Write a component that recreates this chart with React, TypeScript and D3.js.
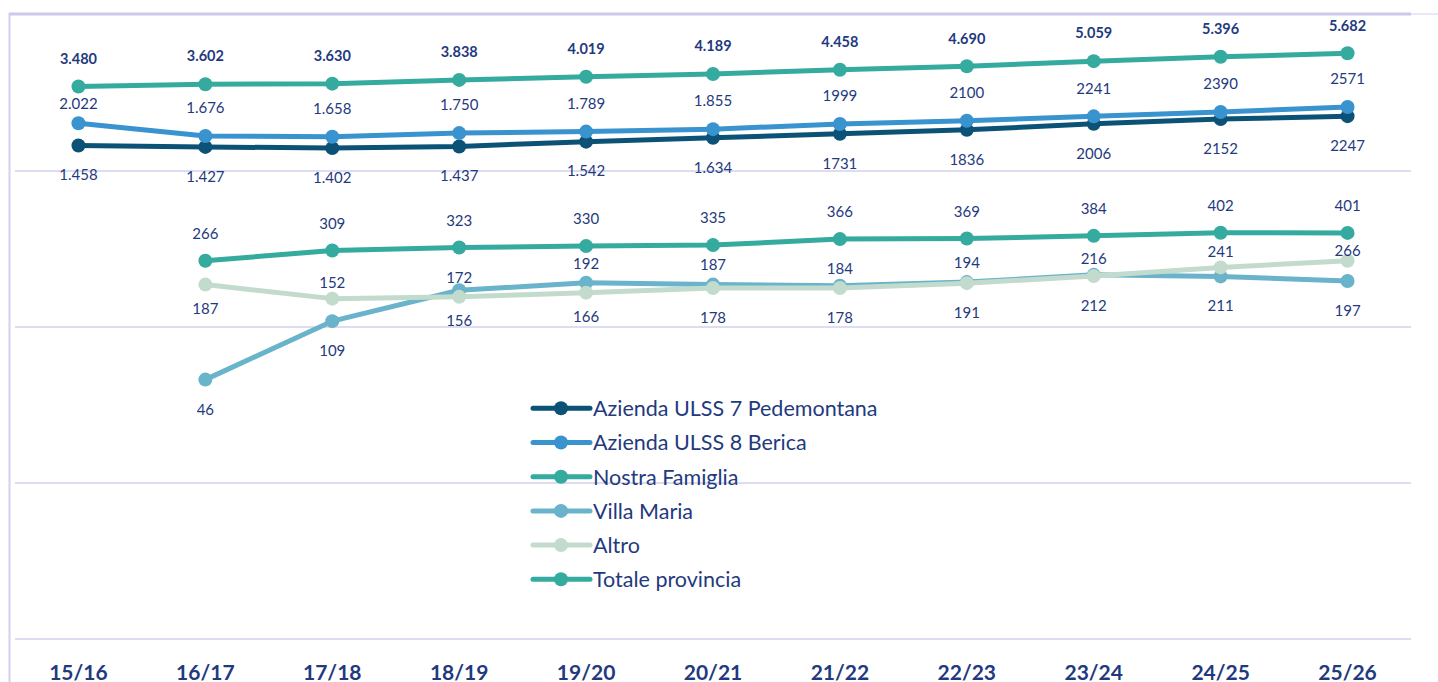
import React from "react";
import * as d3 from "d3";

const categories = ["15/16", "16/17", "17/18", "18/19", "19/20", "20/21", "21/22", "22/23", "23/24", "24/25", "25/26"];

const ulss7 = [1458, 1427, 1402, 1437, 1542, 1634, 1731, 1836, 2006, 2152, 2247];
const ulss8 = [2022, 1676, 1658, 1750, 1789, 1855, 1999, 2100, 2241, 2390, 2571];
const nostraFamiglia = [null, 266, 309, 323, 330, 335, 366, 369, 384, 402, 401];
const villaMaria = [null, 46, 109, 172, 192, 187, 184, 194, 216, 211, 197];
const altro = [null, 187, 152, 156, 166, 178, 178, 191, 212, 241, 266];
const totale = [3480, 3602, 3630, 3838, 4019, 4189, 4458, 4690, 5059, 5396, 5682];

const seriesNames = ["Azienda ULSS 7 Pedemontana", "Azienda ULSS 8 Berica", "Nostra Famiglia", "Villa Maria", "Altro", "Totale provincia"];

// label placement (vertical offset of label centre from the point, px)
const dyUlss7 = [29.5, 29.5, 29.5, 29.5, 29.5, 29.5, 29.5, 29.5, 29.5, 29.5, 29.5];
const dyUlss8 = [-20, -28, -28, -28, -28, -28, -28, -28, -28, -28, -28];
const dyNostra = [0, -27, -27, -27, -27, -27, -27, -27, -27, -27, -27];
const dyVilla = [0, 30, 30, -13, -19, -19.5, -16.5, -19.5, -16.5, 29.5, 30];
const dyAltro = [0, 24.5, -16, 24, 24.5, 29.8, 29.8, 30, 30, -15.7, -10];
const dyTotale = [-28, -28, -28, -28, -28, -28, -28, -28, -28, -28, -28];

const W = 1438;
const H = 682;
const LABEL = "#1f3a7e";
const GRID = "#d3d0ef";

type Series = {
  name: string;
  values: (number | null)[];
  color: string;
  dy: number[];
  bold: boolean;
  dotted: number; // number of leading labels written with thousands separator
};

const series: Series[] = [
  { name: seriesNames[0], values: ulss7, color: "#0c5276", dy: dyUlss7, bold: false, dotted: 6 },
  { name: seriesNames[1], values: ulss8, color: "#3993cf", dy: dyUlss8, bold: false, dotted: 6 },
  { name: seriesNames[2], values: nostraFamiglia, color: "#35ab9f", dy: dyNostra, bold: false, dotted: 0 },
  { name: seriesNames[3], values: villaMaria, color: "#69b3cb", dy: dyVilla, bold: false, dotted: 0 },
  { name: seriesNames[4], values: altro, color: "#c3dbcd", dy: dyAltro, bold: false, dotted: 0 },
  { name: seriesNames[5], values: totale, color: "#35ab9f", dy: dyTotale, bold: true, dotted: 11 },
];

const itLocale = d3.formatLocale({ decimal: ",", thousands: ".", grouping: [3], currency: ["€", ""] });
const fmtDot = itLocale.format(",d");
const fmtPlain = d3.format("d");

export default function App() {
  const x = d3.scaleBand<string>().domain(categories).range([15, 1411]);
  const y = d3.scaleLog().domain([1, 10000]).range([639, 15]);
  const cx = (i: number) => (x(categories[i]) as number) + x.bandwidth() / 2;
  const gridVals = [1, 10, 100, 1000];
  const font = "Lato, 'Open Sans', sans-serif";

  const line = d3
    .line<number | null>()
    .defined((d) => d != null)
    .x((_, i) => cx(i))
    .y((d) => y(d as number));

  const legendX = 533;
  const legendY0 = 408.3;
  const legendStep = 34.2;

  return (
    <svg width={W} height={H} style={{ position: "absolute", left: 0, top: 0, display: "block", background: "#fff" }} fontFamily={font}>
      {/* frame */}
      <line x1={9.5} x2={9.5} y1={13} y2={H} stroke={GRID} strokeWidth={2} />
      <line x1={9} x2={1411} y1={14} y2={14} stroke="#ccc8ec" strokeWidth={3} />
      <line x1={1411} x2={W} y1={14} y2={14} stroke={GRID} strokeWidth={1} />
      {gridVals.map((g) => (
        <line key={g} x1={15} x2={1411} y1={y(g)} y2={y(g)} stroke={GRID} strokeWidth={1.6} />
      ))}

      {/* series */}
      {series.map((s) => (
        <g key={s.name}>
          <path d={line(s.values) || ""} fill="none" stroke={s.color} strokeWidth={5} strokeLinejoin="round" />
          {s.values.map((v, i) =>
            v == null ? null : <circle key={i} cx={cx(i)} cy={y(v)} r={7} fill={s.color} />
          )}
        </g>
      ))}

      {/* data labels */}
      {series.map((s) => (
        <g key={s.name + "-lbl"}>
          {s.values.map((v, i) =>
            v == null ? null : (
              <text
                key={i}
                x={cx(i)}
                y={y(v) + s.dy[i] + 5.3}
                textAnchor="middle"
                fontSize={s.bold ? 14.5 : 15}
                fontWeight={s.bold ? 700 : 400}
                fill={LABEL}
              >
                {i < s.dotted ? fmtDot(v) : fmtPlain(v)}
              </text>
            )
          )}
        </g>
      ))}

      {/* category labels */}
      {categories.map((c, i) => (
        <text key={c} x={cx(i)} y={679.5} textAnchor="middle" fontSize={21} fontWeight={700} fill={LABEL}>
          {c}
        </text>
      ))}

      {/* legend */}
      {series.map((s, i) => {
        const ly = legendY0 + i * legendStep;
        return (
          <g key={s.name + "-leg"}>
            <line x1={legendX} x2={legendX + 57} y1={ly} y2={ly} stroke={s.color} strokeWidth={5} strokeLinecap="round" />
            <circle cx={legendX + 28} cy={ly} r={7} fill={s.color} />
            <text x={legendX + 60} y={ly + 7.8} fontSize={21.5} fill={LABEL}>
              {s.name}
            </text>
          </g>
        );
      })}
    </svg>
  );
}
